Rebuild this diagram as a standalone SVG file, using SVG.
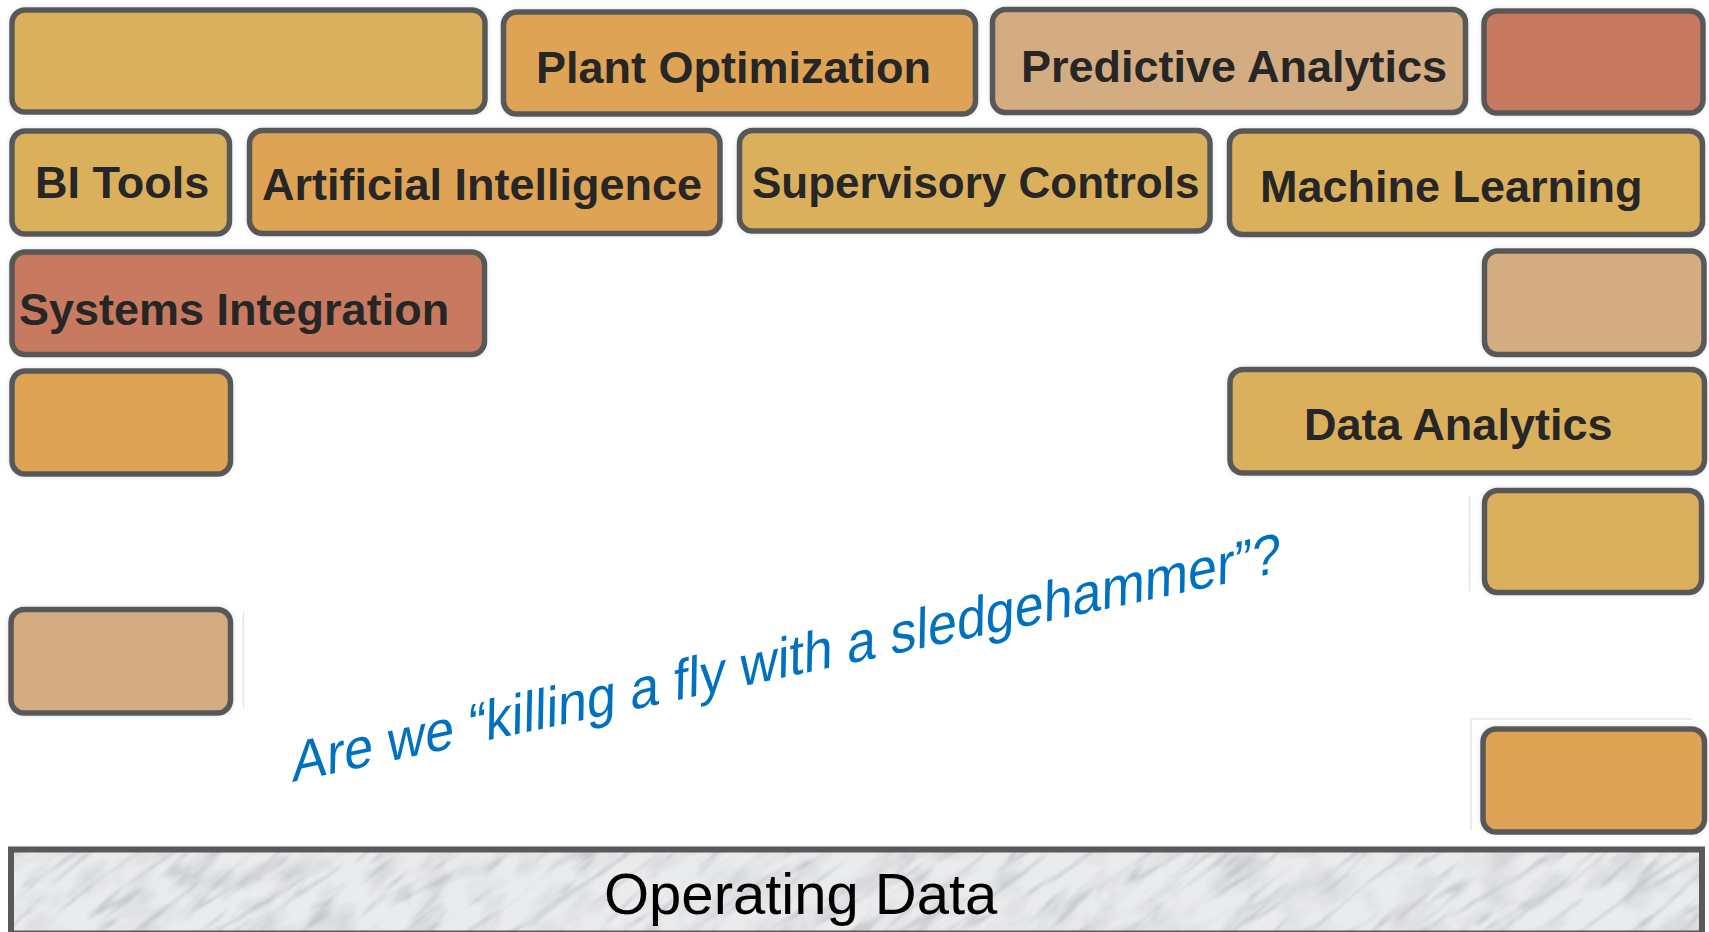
<svg xmlns="http://www.w3.org/2000/svg" width="1709" height="932" viewBox="0 0 1709 932">
  <style>
    .box { stroke: #595959; stroke-width: 5.5; filter: url(#glow); }
    .gold { fill: #DBB05C; }
    .orange { fill: #DFA356; }
    .tan { fill: #D3AC82; }
    .red { fill: #C87A60; }
    .lbl { font-family: "Liberation Sans", Arial, sans-serif; font-weight: bold; font-size: 45px; fill: #262626; }
    .q { font-family: "Liberation Sans", Arial, sans-serif; font-size: 52px; fill: #0070C0; }
    .base { font-family: "Liberation Sans", Arial, sans-serif; font-size: 58px; fill: #000000; }
    .artifact { stroke: #e4e4e4; stroke-width: 1.5; fill: none; }
  </style>
  <defs>
    <filter id="glow" x="-10%" y="-15%" width="120%" height="130%">
      <feGaussianBlur in="SourceAlpha" stdDeviation="2.2"/>
      <feColorMatrix type="matrix" values="0 0 0 0 0.55  0 0 0 0 0.55  0 0 0 0 0.55  0 0 0 0.55 0"/>
      <feMerge><feMergeNode/><feMergeNode in="SourceGraphic"/></feMerge>
    </filter>
    <filter id="marble" filterUnits="userSpaceOnUse" x="-400" y="100" width="2600" height="1600">
      <feTurbulence type="turbulence" baseFrequency="0.006 0.05" numOctaves="4" seed="11" result="t"/>
      <feColorMatrix in="t" type="matrix" values="0 0 0 0 0.40  0 0 0 0 0.42  0 0 0 0 0.45  -2.6 0 0 0 0.62" result="streaks"/>
      <feGaussianBlur in="streaks" stdDeviation="0.9" result="s"/>
      <feTurbulence type="fractalNoise" baseFrequency="0.02 0.04" numOctaves="3" seed="3" result="f"/>
      <feColorMatrix in="f" type="matrix" values="0 0 0 0 0.55  0 0 0 0 0.56  0 0 0 0 0.58  1.4 0 0 0 -0.62" result="mottle"/>
      <feMerge><feMergeNode in="mottle"/><feMergeNode in="s"/></feMerge>
    </filter>
    <clipPath id="barClip"><rect x="11" y="849.5" width="1691" height="84"/></clipPath>
  </defs>

  <rect x="0" y="0" width="1709" height="932" fill="#ffffff"/>

  <!-- faint clipping artifacts -->
  <g id="artifacts">
    <path class="artifact" d="M1469.5 496 V591"/>
    <path class="artifact" d="M1471 719 H1692 M1471 719 V830"/>
    <path class="artifact" d="M243.5 612 V708"/>
  </g>

  <g id="connectors"/>

  <g id="n-blank-top-left"><rect class="box gold" x="12" y="10" width="473" height="102" rx="13"/></g>
  <g id="n-plant-optimization"><rect class="box orange" x="503.5" y="12" width="472" height="102" rx="13"/><text class="lbl" x="536" y="83">Plant Optimization</text></g>
  <g id="n-predictive-analytics"><rect class="box tan" x="992.5" y="9.5" width="473" height="103" rx="13"/><text class="lbl" x="1021" y="82">Predictive Analytics</text></g>
  <g id="n-blank-top-right"><rect class="box red" x="1484" y="11" width="219" height="102" rx="13"/></g>

  <g id="n-bi-tools"><rect class="box gold" x="12" y="131" width="217.5" height="103" rx="13"/><text class="lbl" x="35" y="198">BI Tools</text></g>
  <g id="n-artificial-intelligence"><rect class="box orange" x="249.5" y="130.5" width="470.5" height="103" rx="13"/><text class="lbl" x="262" y="200">Artificial Intelligence</text></g>
  <g id="n-supervisory-controls"><rect class="box gold" x="739.5" y="130.5" width="470.5" height="100.5" rx="13"/><text class="lbl" x="752" y="198" style="font-size:44px">Supervisory Controls</text></g>
  <g id="n-machine-learning"><rect class="box gold" x="1229.5" y="131" width="473" height="103.5" rx="13"/><text class="lbl" x="1260" y="202">Machine Learning</text></g>

  <g id="n-systems-integration"><rect class="box red" x="12" y="252" width="472.5" height="102.5" rx="13"/><text class="lbl" x="19" y="325">Systems Integration</text></g>
  <g id="n-blank-right-3"><rect class="box tan" x="1484.5" y="251" width="219.5" height="103.5" rx="13"/></g>

  <g id="n-blank-left-4"><rect class="box orange" x="12" y="371" width="218.5" height="103" rx="13"/></g>
  <g id="n-data-analytics"><rect class="box gold" x="1230" y="369.5" width="474.5" height="103.5" rx="13"/><text class="lbl" x="1304" y="440">Data Analytics</text></g>

  <g id="n-blank-right-5"><rect class="box gold" x="1484.5" y="490.5" width="217" height="102" rx="13"/></g>
  <g id="n-blank-left-6"><rect class="box tan" x="11" y="609.5" width="219.5" height="103.5" rx="13"/></g>
  <g id="n-blank-right-7"><rect class="box orange" x="1483" y="729" width="221.5" height="103" rx="13"/></g>

  <g id="n-question">
    <text class="q" transform="matrix(1 -0.2126 -0.02 1.1 292 782)" x="0" y="0">Are we “killing a fly with a sledgehammer”?</text>
  </g>

  <g id="n-operating-data">
    <rect x="11" y="849.5" width="1691" height="84" fill="#eaebed" filter="url(#glow)"/>
    <g clip-path="url(#barClip)">
      <g transform="rotate(-38 856 890)">
        <rect x="-400" y="100" width="2600" height="1600" fill="#000" filter="url(#marble)"/>
      </g>
    </g>
    <rect x="11" y="849.5" width="1691" height="84" fill="none" stroke="#595959" stroke-width="6"/>
    <text class="base" x="604" y="914">Operating Data</text>
  </g>
</svg>
